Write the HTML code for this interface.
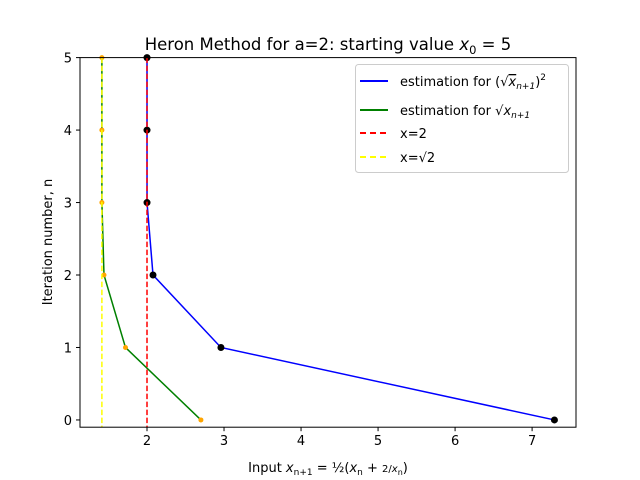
<!DOCTYPE html>
<html><head><meta charset="utf-8"><style>
body{margin:0;background:#fff;}
svg{display:block;font-family:"DejaVu Sans","Liberation Sans",sans-serif;}
</style></head><body>
<svg id="chart" width="640" height="480" xmlns="http://www.w3.org/2000/svg">
<rect width="640" height="480" fill="#fff"/>
<g id="plot"></g>
<text x="328" y="50" text-anchor="middle" font-size="16.5">Heron Method for a=2: starting value <tspan font-style="italic">x</tspan><tspan font-size="11.5" dy="4">0</tspan><tspan dy="-4"> = 5</tspan></text>
<text transform="translate(52,242) rotate(-90)" text-anchor="middle" font-size="13">Iteration number, n</text>
<text x="328" y="472" text-anchor="middle" font-size="13">Input <tspan font-style="italic">x</tspan><tspan font-size="9" dy="3">n+1</tspan><tspan dy="-3"> = ½(</tspan><tspan font-style="italic">x</tspan><tspan font-size="9" dy="3">n</tspan><tspan dy="-3"> + </tspan><tspan font-size="10">2/</tspan><tspan font-style="italic" font-size="10">x</tspan><tspan font-size="8" dy="3">n</tspan><tspan dy="-3">)</tspan></text>
<g>
<rect x="355.5" y="64.5" width="213" height="108" rx="3" fill="#fff" fill-opacity="0.8" stroke="#ccc"/>
<line x1="360" y1="81" x2="388" y2="81" stroke="#0000ff" stroke-width="2"/>
<text x="400" y="86" font-size="13">estimation for (√<tspan font-style="italic" text-decoration="overline">x</tspan><tspan font-size="9" dy="3" font-style="italic">n+1</tspan><tspan dy="-3">)</tspan><tspan font-size="9" dy="-6">2</tspan></text>
<line x1="360" y1="110" x2="388" y2="110" stroke="#008000" stroke-width="2"/>
<text x="400" y="115" font-size="13">estimation for √<tspan font-style="italic">x</tspan><tspan font-size="9" dy="3" font-style="italic">n+1</tspan></text>
<line x1="360" y1="133" x2="388" y2="133" stroke="#ff0000" stroke-width="2" stroke-dasharray="6,4"/>
<text x="400" y="138" font-size="13">x=2</text>
<line x1="360" y1="157" x2="388" y2="157" stroke="#ffff00" stroke-width="2" stroke-dasharray="6,4"/>
<text x="400" y="162" font-size="13">x=√2</text>
</g>
</svg>
<script>
const iterations=[0,1,2,3,4,5];
const squaredValues=[7.29,2.96,2.078,2.0003,2.0,2.0];
const sqrtValues=[2.7,1.7204,1.4415,1.4143,1.4142,1.4142];
const xTicks=[2,3,4,5,6,7];
const yTicks=[0,1,2,3,4,5];
const refLines=[2,1.41421];
const X0=80,X1=576,Y0=57.6,Y1=427.2,xmin=1.13,xmax=7.57,ymin=-0.1,ymax=5;
const sx=v=>X0+(v-xmin)/(xmax-xmin)*(X1-X0);
const sy=v=>Y1-(v-ymin)/(ymax-ymin)*(Y1-Y0);
const NS="http://www.w3.org/2000/svg";
const g=document.getElementById('plot');
function mk(t,a){const e=document.createElementNS(NS,t);for(const k in a)e.setAttribute(k,a[k]);g.appendChild(e);return e;}
xTicks.forEach(t=>{
const l=mk('line',{x1:sx(t),x2:sx(t),y1:Y1,y2:Y1+4,stroke:'#000'});


const tx=mk('text',{x:sx(t),y:Y1+18,'text-anchor':'middle','font-size':13});tx.textContent=t;


});
yTicks.forEach(t=>{
const l=mk('line',{x1:X0-4,x2:X0,y1:sy(t),y2:sy(t),stroke:'#000'});


const tx=mk('text',{x:X0-8,y:sy(t)+5,'text-anchor':'end','font-size':13});tx.textContent=t;


});
const pts=a=>a.map((v,i)=>sx(v)+','+sy(iterations[i])).join(' ');
const b=mk('polyline',{points:pts(squaredValues),fill:'none',stroke:'#0000ff','stroke-width':1.5});


const gr=mk('polyline',{points:pts(sqrtValues),fill:'none',stroke:'#008000','stroke-width':1.5});


squaredValues.forEach((v,i)=>{const c=mk('circle',{cx:sx(v),cy:sy(iterations[i]),r:3.5,fill:'#000'});

});
sqrtValues.forEach((v,i)=>{const c=mk('circle',{cx:sx(v),cy:sy(iterations[i]),r:2.5,fill:'#ffa500'});

});
const r=mk('line',{x1:sx(refLines[0]),x2:sx(refLines[0]),y1:Y0,y2:Y1,stroke:'#ff0000','stroke-width':1.5,'stroke-dasharray':'5.5,2.5'});


const y=mk('line',{x1:sx(refLines[1]),x2:sx(refLines[1]),y1:Y0,y2:Y1,stroke:'#ffff00','stroke-width':1.5,'stroke-dasharray':'5.5,2.5'});


const f=mk('rect',{x:X0,y:Y0,width:X1-X0,height:Y1-Y0,fill:'none',stroke:'#000','stroke-width':1});


</script>
</body></html>
